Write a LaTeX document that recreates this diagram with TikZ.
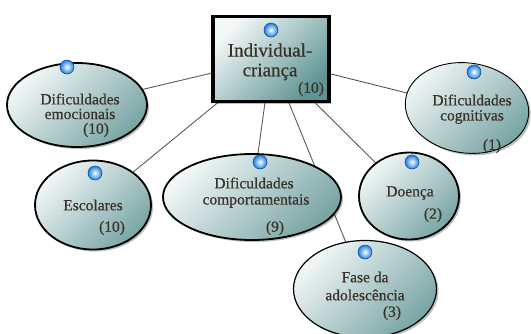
\documentclass[tikz,border=0pt]{standalone}
\usepackage{fontspec}
\setmainfont{Liberation Serif}
\newfontfamily\diagfont{Liberation Serif}[FakeBold=0.6]
\usetikzlibrary{shapes.geometric,shadows}
\definecolor{txt}{HTML}{3A3228}
\definecolor{lightf}{HTML}{F2F7F7}
\definecolor{darkf}{HTML}{79A5A5}
\definecolor{darkbox}{HTML}{5F9494}
\definecolor{conn}{HTML}{5A5A5A}
\definecolor{dotblue}{HTML}{1A7FE6}
\tikzset{
  topic/.style={ellipse, draw=black, line width=1.8pt, inner sep=0pt,
    top color=lightf, bottom color=darkf, shading angle=45,
    drop shadow={shadow xshift=2pt, shadow yshift=-2pt, opacity=0.25, fill=black}},
  thintopic/.style={topic, line width=0.9pt},
  centerbox/.style={rectangle, draw=black, line width=3.5pt, inner sep=0pt,
    top color=lightf, bottom color=darkbox, shading angle=45,
    drop shadow={shadow xshift=2pt, shadow yshift=-2pt, opacity=0.25, fill=black}},
  lbl/.style={inner sep=0pt, text=txt, font=\diagfont\fontsize{15.5}{16}\selectfont},
  biglbl/.style={inner sep=0pt, text=txt, font=\diagfont\fontsize{19}{20}\selectfont},
  numlbl/.style={inner sep=0pt, text=txt, font=\diagfont\fontsize{15.5}{16}\selectfont},
  dot/.style={circle, inner sep=0pt, minimum size=14pt, draw=dotblue!55!black, line width=0.5pt,
    inner color=white, outer color=dotblue},
  link/.style={draw=conn, line width=0.9pt}
}
\begin{document}
\begin{tikzpicture}[x=1pt,y=-1pt]
\useasboundingbox (0,0) rectangle (531,333);
\coordinate (cbox) at (271,59);
\coordinate (cemo) at (77,105);
\coordinate (ccog) at (467,108);
\coordinate (cesc) at (93,205);
\coordinate (ccom) at (252,197);
\coordinate (cdoe) at (409,196);
\coordinate (cfas) at (365,289);
% connectors
\draw[link] (cbox) -- (cemo);
\draw[link] (cbox) -- (ccog);
\draw[link] (cbox) -- (cesc);
\draw[link] (cbox) -- (ccom);
\draw[link] (cbox) -- (cdoe);
\draw[link] (cbox) -- (cfas);
% shapes
\node[topic, minimum width=140pt, minimum height=84pt] (emo) at (cemo) {};
\node[thintopic, minimum width=124pt, minimum height=90pt, rotate=-8] (cog) at (ccog) {};
\node[topic, minimum width=116pt, minimum height=89pt] (esc) at (cesc) {};
\node[topic, minimum width=178pt, minimum height=86pt] (com) at (ccom) {};
\node[topic, minimum width=100pt, minimum height=87pt] (doe) at (cdoe) {};
\node[thintopic, line width=1.2pt, minimum width=143pt, minimum height=97pt] (fas) at (cfas) {};
\node[centerbox, minimum width=116pt, minimum height=85pt] (box) at (cbox) {};
% dots
\node[dot] (dbox) at (271,30) {};
\node[dot] (demo) at (67,67) {};
\node[dot] (dcog) at (474,72) {};
\node[dot] (desc) at (95,173) {};
\node[dot] (dcom) at (260,162) {};
\node[dot] (ddoe) at (412,162) {};
\node[dot] (dfas) at (365,252) {};
% texts
\node[biglbl] (t1) at (270,50) {Individual-};
\node[biglbl] (t2) at (270,72) {criança};
\node[numlbl] (t3) at (311,89) {(10)};
\node[lbl] (e1) at (80,99) {Dificuldades};
\node[lbl] (e2) at (80,114) {emocionais};
\node[numlbl] (e3) at (96,130) {(10)};
\node[lbl] (g1) at (472,100) {Dificuldades};
\node[lbl] (g2) at (472,117) {cognitivas};
\node[numlbl] (g3) at (492,146) {(1)};
\node[lbl] (s1) at (93,205) {Escolares};
\node[numlbl] (s2) at (112,228) {(10)};
\node[lbl] (m1) at (254,183) {Dificuldades};
\node[lbl] (m2) at (256,201) {comportamentais};
\node[numlbl] (m3) at (275,228) {(9)};
\node[lbl] (d1) at (410,193) {Doença};
\node[numlbl] (d2) at (433,215) {(2)};
\node[lbl] (f1) at (365,277) {Fase da};
\node[lbl] (f2) at (365,295) {adolescência};
\node[numlbl] (f3) at (392,313) {(3)};
\end{tikzpicture}
\end{document}
